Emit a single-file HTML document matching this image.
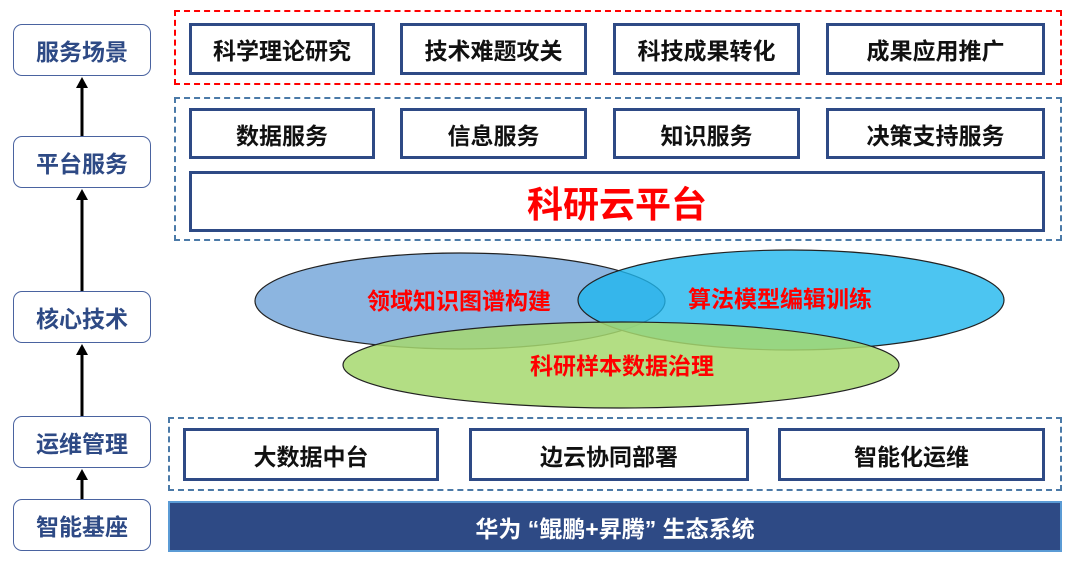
<!DOCTYPE html>
<html><head><meta charset="utf-8"><style>
body{margin:0;width:1080px;height:565px;background:#fff;position:relative;overflow:hidden;font-family:"Liberation Sans","Noto Sans CJK SC",sans-serif;font-weight:bold}
.a{position:absolute;box-sizing:border-box}
.l{border:1.5px solid #4a63a0;border-radius:9px;color:#2e4a85;font-size:23px;display:flex;align-items:center;justify-content:center;background:#fff}
.b{border:3px solid #2e4a85;background:#fff;color:#111;font-size:23px;display:flex;align-items:center;justify-content:center}
.d{border:2px dashed #4b7aa8}
</style></head><body>
<div class="a l" style="left:13px;top:24px;width:138px;height:52px">服务场景</div>
<div class="a l" style="left:13px;top:136px;width:138px;height:52px">平台服务</div>
<div class="a l" style="left:13px;top:291px;width:138px;height:52px">核心技术</div>
<div class="a l" style="left:13px;top:416px;width:138px;height:52px">运维管理</div>
<div class="a l" style="left:13px;top:499px;width:138px;height:52px">智能基座</div>
<svg class="a" style="left:0;top:0" width="1080" height="565">
<g stroke="#000" stroke-width="3" fill="#000">
<line x1="82" y1="136" x2="82" y2="86"/><polygon points="76,88 88,88 82,77" stroke="none"/>
<line x1="82" y1="291" x2="82" y2="198"/><polygon points="76,200 88,200 82,189" stroke="none"/>
<line x1="82" y1="416" x2="82" y2="353"/><polygon points="76,355 88,355 82,344" stroke="none"/>
<line x1="82" y1="499" x2="82" y2="478"/><polygon points="76,480 88,480 82,469" stroke="none"/>
</g>
<ellipse cx="460" cy="301" rx="205" ry="48" fill="#8cb5e0" stroke="#222" stroke-width="1.2"/>
<ellipse cx="791" cy="300" rx="213" ry="50" fill="#1fb7ee" fill-opacity="0.8" stroke="#222" stroke-width="1.2"/>
<ellipse cx="621" cy="365" rx="278" ry="43" fill="#a6d86e" fill-opacity="0.85" stroke="#222" stroke-width="1.2"/>
<g fill="#f00" font-size="23" font-weight="bold" text-anchor="middle" font-family="Liberation Sans,Noto Sans CJK SC,sans-serif">
<text x="459" y="309">领域知识图谱构建</text>
<text x="780" y="307">算法模型编辑训练</text>
<text x="622" y="374">科研样本数据治理</text>
</g>
</svg>
<div class="a" style="left:174px;top:10px;width:888px;height:75px;border:2px dashed #f00"></div>
<div class="a b" style="left:189px;top:23px;width:186px;height:52px">科学理论研究</div>
<div class="a b" style="left:400px;top:23px;width:187px;height:52px">技术难题攻关</div>
<div class="a b" style="left:613px;top:23px;width:187px;height:52px">科技成果转化</div>
<div class="a b" style="left:826px;top:23px;width:219px;height:52px">成果应用推广</div>
<div class="a d" style="left:174px;top:97px;width:888px;height:144px"></div>
<div class="a b" style="left:189px;top:108px;width:186px;height:51px">数据服务</div>
<div class="a b" style="left:400px;top:108px;width:187px;height:51px">信息服务</div>
<div class="a b" style="left:613px;top:108px;width:187px;height:51px">知识服务</div>
<div class="a b" style="left:826px;top:108px;width:219px;height:51px">决策支持服务</div>
<div class="a b" style="left:189px;top:171px;width:856px;height:61px;color:#f00;font-size:36px">科研云平台</div>
<div class="a d" style="left:168px;top:417px;width:894px;height:74px"></div>
<div class="a b" style="left:183px;top:428px;width:256px;height:53px">大数据中台</div>
<div class="a b" style="left:469px;top:428px;width:280px;height:53px">边云协同部署</div>
<div class="a b" style="left:778px;top:428px;width:267px;height:53px">智能化运维</div>
<div class="a" style="left:168px;top:501px;width:894px;height:51px;background:#2e4a85;border:2px solid #5b9bd5;color:#fff;font-size:23px;display:flex;align-items:center;justify-content:center">华为 “鲲鹏+昇腾” 生态系统</div>
</body></html>
